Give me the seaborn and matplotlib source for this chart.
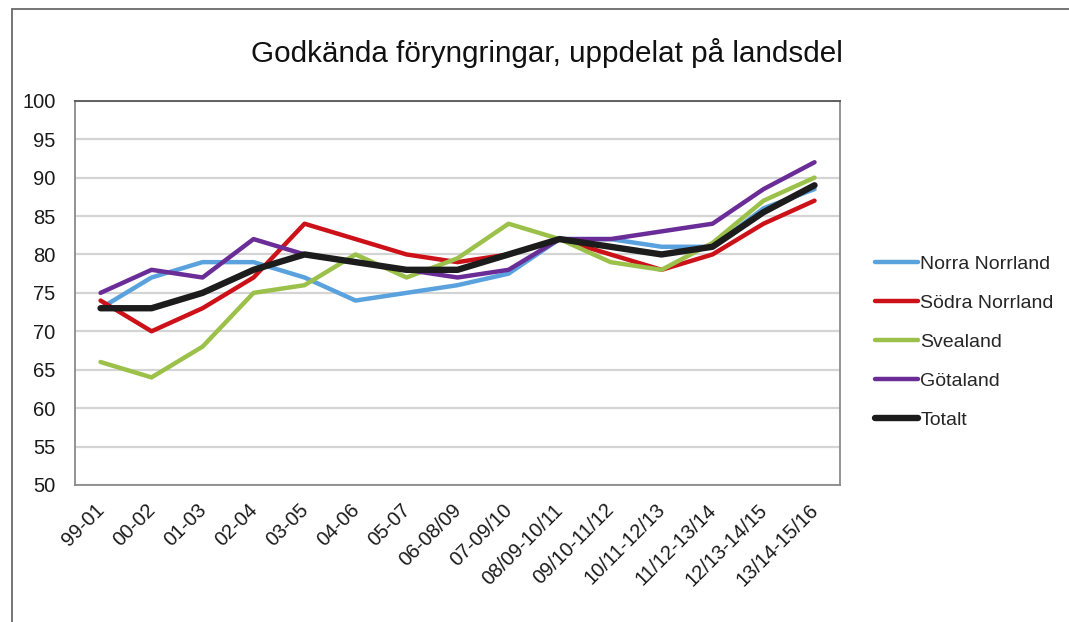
import pandas as pd
import numpy as np
import matplotlib.pyplot as plt
import seaborn as sns
from matplotlib.patches import Rectangle
from matplotlib.lines import Line2D
from matplotlib.transforms import ScaledTranslation

perioder = ['99-01', '00-02', '01-03', '02-04', '03-05', '04-06', '05-07', '06-08/09',
            '07-09/10', '08/09-10/11', '09/10-11/12', '10/11-12/13', '11/12-13/14',
            '12/13-14/15', '13/14-15/16']
norra_norrland = [73, 77, 79, 79, 77, 74, 75, 76, 77.5, 82, 82, 81, 81, 86, 88.5]
sodra_norrland = [74, 70, 73, 77, 84, 82, 80, 79, 80, 82, 80, 78, 80, 84, 87]
svealand = [66, 64, 68, 75, 76, 80, 77, 79.5, 84, 82, 79, 78, 81.5, 87, 90]
gotaland = [75, 78, 77, 82, 80, 79, 78, 77, 78, 82, 82, 83, 84, 88.5, 92]
totalt = [73, 73, 75, 78, 80, 79, 78, 78, 80, 82, 81, 80, 81, 85.5, 89]

serier = ['Norra Norrland', 'Södra Norrland', 'Svealand', 'Götaland', 'Totalt']
farger = ['#5aa2dd', '#cc1118', '#9cc14a', '#6a2c96', '#1c1c1c']
bredd = [3.2, 3.2, 3.2, 3.2, 4.6]

df = pd.DataFrame({'Norra Norrland': norra_norrland, 'Södra Norrland': sodra_norrland,
                   'Svealand': svealand, 'Götaland': gotaland, 'Totalt': totalt})
df['i'] = np.arange(len(perioder))
lang = df.melt(id_vars='i', var_name='serie', value_name='andel')

sns.set_style('white')
plt.rcParams['font.family'] = ['Liberation Sans', 'DejaVu Sans']

fig = plt.figure(figsize=(10.69, 6.22), dpi=100)
ax = fig.add_axes([0.0702, 0.2203, 0.7156, 0.6177])

for s, f, b in zip(serier, farger, bredd):
    sns.lineplot(data=lang[lang['serie'] == s], x='i', y='andel', color=f, linewidth=b,
                 ax=ax, legend=False, solid_joinstyle='round', solid_capstyle='round')

ax.set_xlim(-0.5, len(perioder) - 0.5)
ax.set_ylim(50, 100)
ax.set_yticks(np.arange(50, 101, 5))
ax.yaxis.grid(True, color='#d4d4d4', linewidth=1.6)
ax.set_axisbelow(True)
ax.set_xticks(np.arange(len(perioder)))
ax.set_xticklabels(perioder, rotation=45, ha='right', rotation_mode='anchor')
ax.set_xticks(np.arange(-0.5, len(perioder)), minor=True)
ax.tick_params(axis='x', which='major', length=0, pad=11, labelsize=14.5, colors='#1a1a1a')
ax.tick_params(axis='x', which='minor', length=5, width=1.2, color='#888888', direction='out')
ax.tick_params(axis='y', length=5, width=1.2, color='#888888', direction='out', pad=9,
               labelsize=14.5, labelcolor='#1a1a1a')
flytt = ScaledTranslation(-6 / 100, 0, fig.dpi_scale_trans)
for lbl in ax.get_xticklabels():
    lbl.set_transform(lbl.get_transform() + flytt)
ax.set_xlabel('')
ax.set_ylabel('')
for sp in ax.spines.values():
    sp.set_color('#8a8a8a')
    sp.set_linewidth(1.3)
ax.spines['top'].set_color('#555555')

handtag = [Line2D([0], [0], color=f, linewidth=b) for f, b in zip(farger, bredd)]
fig.legend(handtag, serier, loc='center left', bbox_to_anchor=(0.809, 0.45), frameon=False,
           borderpad=0, fontsize=14, handlelength=2.25, handletextpad=0.1, labelspacing=1.1)

fig.text(0.512, 0.914, 'Godkända föryngringar, uppdelat på landsdel', ha='center', va='center',
         fontsize=21.3, color='#111111')
fig.patches.append(Rectangle((0.0112, -0.05), 1.1, 1.035, transform=fig.transFigure,
                             fill=False, edgecolor='#6a6a6a', linewidth=1.3))

fig.savefig('out.png', dpi=100)
